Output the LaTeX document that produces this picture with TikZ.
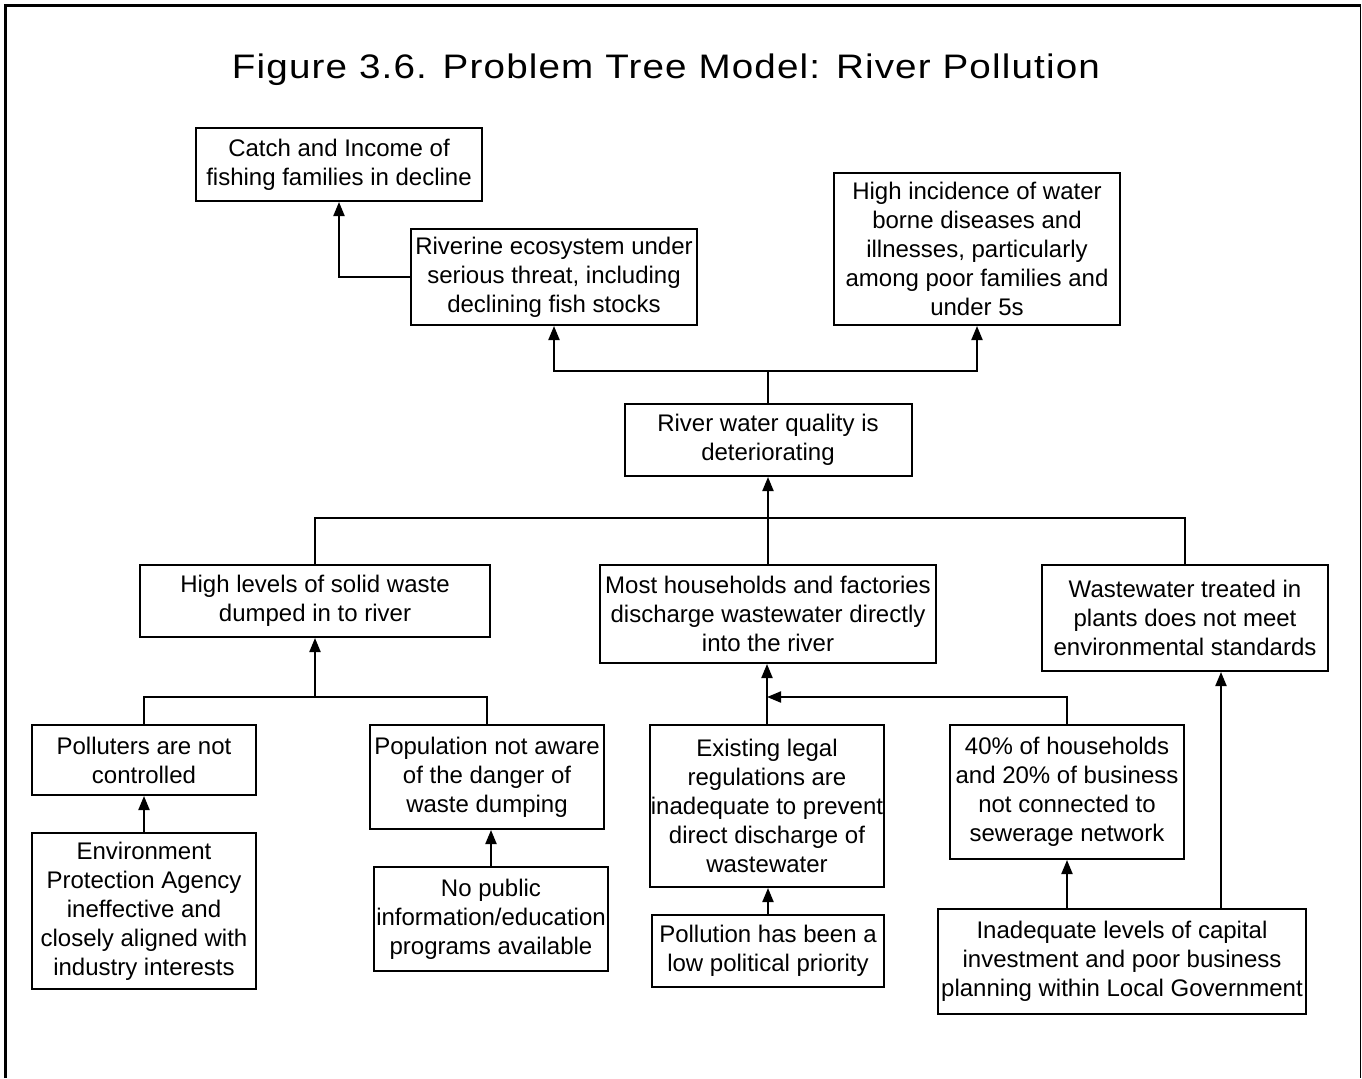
\documentclass[tikz,border=0pt]{standalone}
\usepackage{fontspec}
\usepackage{graphicx}
\setmainfont{Liberation Sans}
\newfontfamily\titlefont[LetterSpace=3]{Liberation Sans}
\usetikzlibrary{arrows.meta}
\begin{document}
\begin{tikzpicture}[x=0.5pt,y=-0.5pt,
  box/.style={draw, line width=1pt, align=center, inner sep=0pt,
    font=\fontsize{12}{14.5}\selectfont},
  link/.style={line width=1pt},
  arr/.style={link, -{Triangle[length=7pt,width=5.5pt]}}]
\useasboundingbox (0,0) rectangle (1362,1078);

% frame (open at the bottom)
\draw[line width=1.2pt] (5.5,1078) -- (5.5,5.5) -- (1360.5,5.5);
\draw[line width=0.6pt] (1360.5,5.5) -- (1360.5,1078);

% title
\node[anchor=base, inner sep=0pt] (title) at (666,78)
  {\resizebox{434pt}{\height}{\titlefont\fontsize{17}{20}\selectfont Figure 3.6. Problem Tree Model: River Pollution}};

% effects
\node[box, minimum width=143pt, minimum height=36.5pt] (c1) at (339,164.5)
  {Catch and Income of\\fishing families in decline};
\node[box, minimum width=143pt, minimum height=48pt] (c2) at (554,277)
  {Riverine ecosystem under\\serious threat, including\\declining fish stocks};
\node[box, minimum width=143pt, minimum height=76pt] (c3) at (977,249)
  {High incidence of water\\borne diseases and\\illnesses, particularly\\among poor families and\\under 5s};

% core problem
\node[box, minimum width=143.5pt, minimum height=36pt] (core) at (768,440)
  {River water quality is\\deteriorating};

% direct causes
\node[box, minimum width=175pt, minimum height=36pt] (s1) at (315,601)
  {High levels of solid waste\\dumped in to river};
\node[box, minimum width=168pt, minimum height=49pt] (s2) at (768,614)
  {Most households and factories\\discharge wastewater directly\\into the river};
\node[box, minimum width=143pt, minimum height=53pt] (s3) at (1185,618)
  {Wastewater treated in\\plants does not meet\\environmental standards};

% second-level causes
\node[box, minimum width=112pt, minimum height=35pt] (r1) at (144,760)
  {Polluters are not\\controlled};
\node[box, minimum width=117pt, minimum height=52pt] (r2) at (487,777)
  {Population not aware\\of the danger of\\waste dumping};
\node[box, minimum width=117pt, minimum height=81pt] (r3) at (767,806)
  {Existing legal\\regulations are\\inadequate to prevent\\direct discharge of\\wastewater};
\node[box, minimum width=117pt, minimum height=67pt] (r4) at (1067,792)
  {40\% of households\\and 20\% of business\\not connected to\\sewerage network};

% root causes
\node[box, minimum width=112pt, minimum height=78pt] (q1) at (144,911)
  {Environment\\Protection Agency\\ineffective and\\closely aligned with\\industry interests};
\node[box, minimum width=117pt, minimum height=52pt] (q2) at (491,919)
  {No public\\information/education\\programs available};
\node[box, minimum width=116pt, minimum height=36pt] (q3) at (768,951)
  {Pollution has been a\\low political priority};
\node[box, minimum width=184pt, minimum height=52.5pt] (q4) at (1122,961.5)
  {Inadequate levels of capital\\investment and poor business\\planning within Local Government};

% junction points
\coordinate (jtop) at (768,371);
\coordinate (jmid) at (768,518);
\coordinate (jlow) at (316,697);
\coordinate (tap) at (1221,909);

% core to effects
\draw[link] (core.north) -- (jtop);
\draw[arr] (jtop) -| (c2.south);
\draw[arr] (jtop) -| (c3.south);
\draw[arr] (c2.west) -| (c1.south);

% direct causes to core
\draw[link] (s1.north) |- (jmid) -| (s3.north);
\draw[link] (s2.north) -- (jmid);
\draw[arr] (jmid) -- (core.south);

% solid waste branch
\draw[arr] (s1.south |- jlow) -- (s1.south);
\draw[link] (r1.north) |- (jlow) -| (r2.north);
\draw[arr] (q1.north) -- (r1.south);
\draw[arr] (q2.north) -- (q2.north |- r2.south);

% wastewater discharge branch
\draw[arr] (r3.north) -- (r3.north |- s2.south);
\draw[arr] (r4.north) |- (r3.north |- jlow);
\draw[arr] (q3.north) -- (q3.north |- r3.south);
\draw[arr] (r4.south |- q4.north) -- (r4.south);
\draw[arr] (tap) -- (tap |- s3.south);
\end{tikzpicture}
\end{document}
